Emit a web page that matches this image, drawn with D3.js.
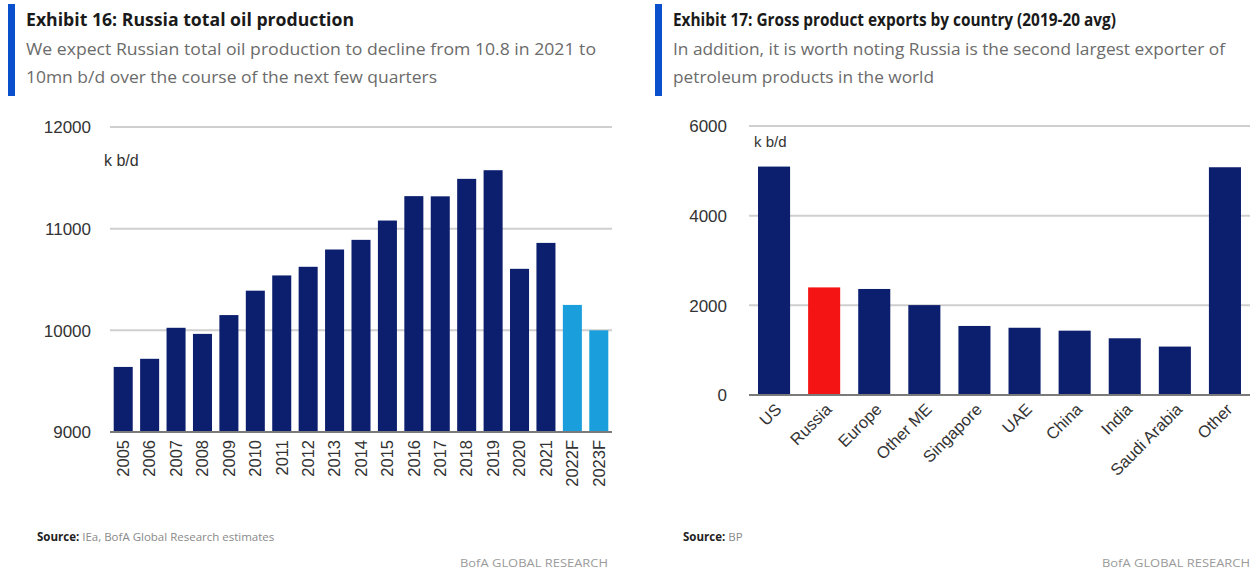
<!DOCTYPE html>
<html>
<head>
<meta charset="utf-8">
<script src="https://cdn.jsdelivr.net/npm/d3@7"></script>
<style>
  html, body { margin: 0; padding: 0; background: #fff; }
  svg { display: block; }
</style>
</head>
<body>
<svg id="chart" width="1258" height="573"></svg>
<script>
// Exhibit 16: Russia total oil production (k b/d)
const prodYears = ["2005","2006","2007","2008","2009","2010","2011","2012","2013","2014",
                   "2015","2016","2017","2018","2019","2020","2021","2022F","2023F"];
const prodValues = [9640, 9720, 10025, 9965, 10150, 10390, 10540, 10625, 10795, 10890,
                    11080, 11320, 11318, 11490, 11575, 10605, 10860, 10250, 10000];
const prodTicks = [9000, 10000, 11000, 12000];

// Exhibit 17: Gross product exports by country, 2019-20 avg (k b/d)
const exportCountries = ["US","Russia","Europe","Other ME","Singapore","UAE","China","India","Saudi Arabia","Other"];
const exportValues = [5095, 2400, 2365, 2005, 1540, 1500, 1435, 1265, 1080, 5080];
const exportTicks = [0, 2000, 4000, 6000];

const NAVY = "#0c1f6e";
const LIGHT = "#1a9fdc";
const RED = "#f41414";
const GRID = "#cfcfcf";
const AXIS = "#7a7a7a";
const LABEL_FONT = "Liberation Sans, Arial, sans-serif";
const HEAD_FONT = "Open Sans, Noto Sans, sans-serif";

const svg = d3.select("#chart");

function header(x0, title, lines, widths) {
  const g = svg.append("g");
  g.append("rect").attr("x", x0).attr("y", 4).attr("width", 7).attr("height", 92).attr("fill", "#0a4fcc");
  g.append("text").attr("x", x0 + 18).attr("y", 26)
    .attr("font-family", HEAD_FONT).attr("font-weight", 700).attr("font-size", 18)
    .attr("fill", "#1a1a1a").attr("textLength", widths[0]).attr("lengthAdjust", "spacingAndGlyphs")
    .text(title);
  lines.forEach((t, i) => {
    g.append("text").attr("x", x0 + 18).attr("y", 55 + i * 28)
      .attr("font-family", HEAD_FONT).attr("font-size", 17)
      .attr("fill", "#6b6b6b").attr("textLength", widths[i + 1]).attr("lengthAdjust", "spacingAndGlyphs")
      .text(t);
  });
}

function footer(x0, src, rightX) {
  const t = svg.append("text").attr("x", x0).attr("y", 541)
    .attr("font-family", HEAD_FONT).attr("font-size", 11.5);
  t.append("tspan").attr("font-weight", 700).attr("fill", "#222").text("Source:");
  t.append("tspan").attr("fill", "#8a8a8a").text(" " + src);
  svg.append("text").attr("x", rightX).attr("y", 567).attr("text-anchor", "end")
    .attr("font-family", HEAD_FONT).attr("font-size", 11).attr("fill", "#9a9a9a")
    .attr("textLength", 148).attr("lengthAdjust", "spacingAndGlyphs")
    .text("BofA GLOBAL RESEARCH");
}

// ---------- Left chart ----------
header(8, "Exhibit 16: Russia total oil production",
  ["We expect Russian total oil production to decline from 10.8 in 2021 to",
   "10mn b/d over the course of the next few quarters"],
  [328, 570, 411]);

const xL = d3.scaleBand().domain(prodYears).range([110, 612]).paddingInner(0.28).paddingOuter(0.14);
const yL = d3.scaleLinear().domain([9000, 12000]).range([432, 127]);

const gL = svg.append("g");
gL.append("g").selectAll("line").data(prodTicks.slice(1)).join("line")
  .attr("x1", 110).attr("x2", 612).attr("y1", d => yL(d)).attr("y2", d => yL(d))
  .attr("stroke", GRID).attr("stroke-width", 2);

const axL = d3.axisLeft(yL).tickValues(prodTicks).tickSize(0).tickPadding(0).tickFormat(d3.format("d"));
gL.append("g").attr("transform", "translate(91,0)").call(axL)
  .call(g => g.select(".domain").remove())
  .selectAll("text").attr("font-family", LABEL_FONT).attr("font-size", 17).attr("fill", "#333").attr("dy", "0.35em");

gL.append("g").selectAll("rect").data(prodYears).join("rect")
  .attr("x", d => xL(d)).attr("width", xL.bandwidth())
  .attr("y", (d, i) => yL(prodValues[i])).attr("height", (d, i) => yL(9000) - yL(prodValues[i]))
  .attr("fill", d => d.endsWith("F") ? LIGHT : NAVY);

gL.append("line").attr("x1", 110).attr("x2", 612).attr("y1", yL(9000)).attr("y2", yL(9000))
  .attr("stroke", AXIS).attr("stroke-width", 2);

const axLB = d3.axisBottom(xL).tickSize(0).tickPadding(0);
gL.append("g").attr("transform", `translate(0,${yL(9000)})`).call(axLB)
  .call(g => g.select(".domain").remove())
  .selectAll("text")
  .attr("font-family", LABEL_FONT).attr("font-size", 16.5).attr("fill", "#333")
  .attr("text-anchor", "end").attr("transform", "rotate(-90)")
  .attr("x", -8).attr("y", 0).attr("dy", "0.35em");

gL.append("text").attr("x", 104).attr("y", 166).attr("font-family", LABEL_FONT)
  .attr("font-size", 16).attr("fill", "#333").text("k b/d");

footer(37, "IEa, BofA Global Research estimates", 608);

// ---------- Right chart ----------
header(655, "Exhibit 17: Gross product exports by country (2019-20 avg)",
  ["In addition, it is worth noting Russia is the second largest exporter of",
   "petroleum products in the world"],
  [443, 552, 261]);

const xR = d3.scaleBand().domain(exportCountries).range([749, 1250]).paddingInner(0.36).paddingOuter(0.18);
const yR = d3.scaleLinear().domain([0, 6000]).range([395, 126]);

const gR = svg.append("g");
gR.append("g").selectAll("line").data(exportTicks.slice(1)).join("line")
  .attr("x1", 749).attr("x2", 1250).attr("y1", d => yR(d)).attr("y2", d => yR(d))
  .attr("stroke", GRID).attr("stroke-width", 2);

const axR = d3.axisLeft(yR).tickValues(exportTicks).tickSize(0).tickPadding(0).tickFormat(d3.format("d"));
gR.append("g").attr("transform", "translate(727,0)").call(axR)
  .call(g => g.select(".domain").remove())
  .selectAll("text").attr("font-family", LABEL_FONT).attr("font-size", 17).attr("fill", "#333").attr("dy", "0.35em");

gR.append("g").selectAll("rect").data(exportCountries).join("rect")
  .attr("x", d => xR(d)).attr("width", xR.bandwidth())
  .attr("y", (d, i) => yR(exportValues[i])).attr("height", (d, i) => yR(0) - yR(exportValues[i]))
  .attr("fill", d => d === "Russia" ? RED : NAVY);

gR.append("line").attr("x1", 749).attr("x2", 1250).attr("y1", yR(0)).attr("y2", yR(0))
  .attr("stroke", AXIS).attr("stroke-width", 2);

const axRB = d3.axisBottom(xR).tickSize(0).tickPadding(0);
gR.append("g").attr("transform", `translate(0,${yR(0)})`).call(axRB)
  .call(g => g.select(".domain").remove())
  .selectAll("text")
  .attr("font-family", LABEL_FONT).attr("font-size", 16.5).attr("fill", "#333")
  .attr("text-anchor", "end").attr("transform", "rotate(-45)")
  .attr("x", -5).attr("y", 17).attr("dy", "0");

gR.append("text").attr("x", 754).attr("y", 147).attr("font-family", LABEL_FONT)
  .attr("font-size", 15).attr("fill", "#333").text("k b/d");

footer(683, "BP", 1250);
</script>
</body>
</html>
